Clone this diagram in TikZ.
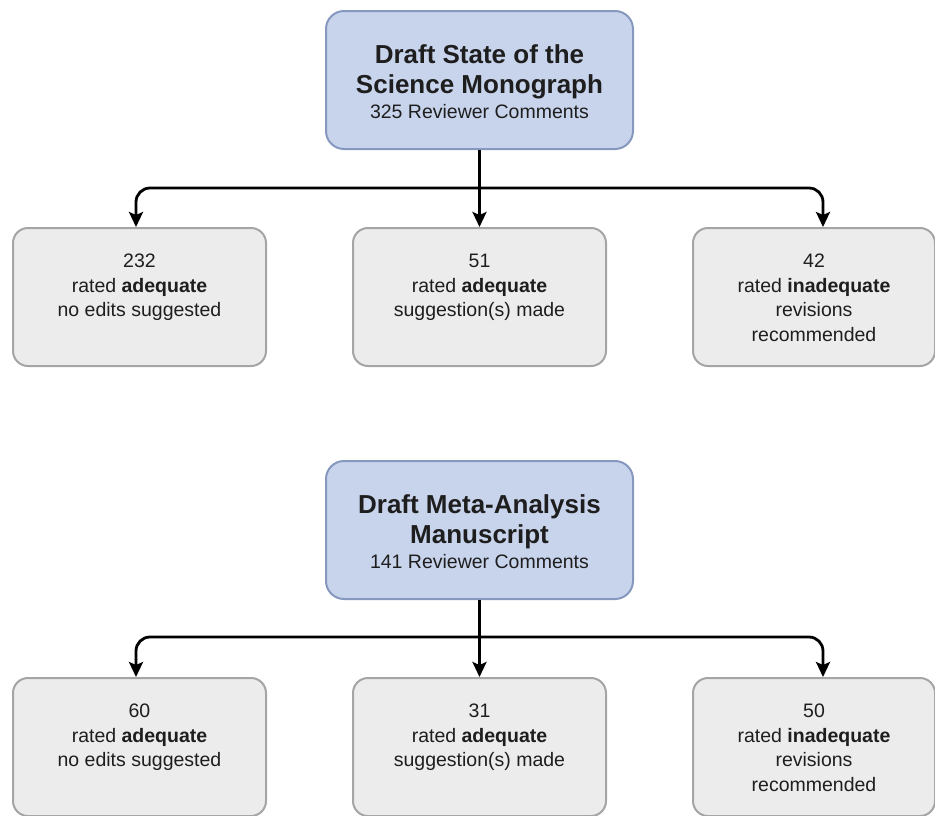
\documentclass[tikz,border=0pt]{standalone}
\usepackage{fontspec}
\setmainfont{Liberation Sans}
\usetikzlibrary{arrows.meta}
\definecolor{hdrfill}{RGB}{200,212,236}
\definecolor{hdrdraw}{RGB}{135,152,190}
\definecolor{boxfill}{RGB}{236,236,237}
\definecolor{boxdraw}{RGB}{165,165,165}
\definecolor{txt}{RGB}{30,30,30}
\tikzset{
  hdrbox/.style={draw=hdrdraw, fill=hdrfill, line width=2pt, rounded corners=18pt,
    minimum width=307pt, minimum height=138pt, inner sep=0pt, anchor=north west},
  hdrtext/.style={text=txt, align=center, inner sep=0pt, anchor=north,
    font=\fontsize{26}{30}\selectfont\bfseries},
  leafbox/.style={draw=boxdraw, fill=boxfill, line width=2pt, rounded corners=15pt,
    minimum height=138pt, inner sep=0pt, anchor=north west},
  leaftext/.style={text=txt, align=center, inner sep=0pt, anchor=north,
    font=\fontsize{19.5}{24.5}\selectfont},
  conn/.style={line width=2.8pt, black},
  arr/.style={conn, -{Stealth[length=15pt,width=14pt,inset=3pt]}},
}
\newcommand{\subln}[1]{{\fontsize{19.5}{24}\mdseries\selectfont #1}}
\begin{document}
\begin{tikzpicture}[x=1pt,y=-1pt]
\useasboundingbox (0,0) rectangle (935,815);
% ---------- first block ----------
\node[hdrbox] (h1) at (325,10) {};
\node[hdrtext] (h1t) at ([yshift=-34pt]h1.north) {Draft State of the\\Science Monograph\\[-5pt]\subln{325 Reviewer Comments}};
\node[leafbox, minimum width=253pt] (a1) at (12,227) {};
\node[leafbox, minimum width=253pt] (a2) at (352,227) {};
\node[leafbox, minimum width=242pt] (a3) at (692,227) {};
\node[leaftext] (a1t) at ([yshift=-27pt]a1.north) {232\\rated \textbf{adequate}\\no edits suggested};
\node[leaftext] (a2t) at ([yshift=-27pt]a2.north) {51\\rated \textbf{adequate}\\suggestion(s) made};
\node[leaftext] (a3t) at ([yshift=-27pt]a3.north) {42\\rated \textbf{inadequate}\\revisions\\recommended};
\coordinate (j1) at (h1.south |- 0,188);
\draw[arr] (h1.south) -- (a2.north);
\draw[arr, rounded corners=14pt] (j1) -| ([xshift=-3.5pt]a1.north);
\draw[arr, rounded corners=14pt] (j1) -| ([xshift=9pt]a3.north);
% ---------- second block ----------
\node[hdrbox] (h2) at (325,460) {};
\node[hdrtext] (h2t) at ([yshift=-34pt]h2.north) {Draft Meta-Analysis\\Manuscript\\[-5pt]\subln{141 Reviewer Comments}};
\node[leafbox, minimum width=253pt] (b1) at (12,677) {};
\node[leafbox, minimum width=253pt] (b2) at (352,677) {};
\node[leafbox, minimum width=242pt] (b3) at (692,677) {};
\node[leaftext] (b1t) at ([yshift=-27pt]b1.north) {60\\rated \textbf{adequate}\\no edits suggested};
\node[leaftext] (b2t) at ([yshift=-27pt]b2.north) {31\\rated \textbf{adequate}\\suggestion(s) made};
\node[leaftext] (b3t) at ([yshift=-27pt]b3.north) {50\\rated \textbf{inadequate}\\revisions\\recommended};
\coordinate (j2) at (h2.south |- 0,637);
\draw[arr] (h2.south) -- (b2.north);
\draw[arr, rounded corners=14pt] (j2) -| ([xshift=-3.5pt]b1.north);
\draw[arr, rounded corners=14pt] (j2) -| ([xshift=9pt]b3.north);
\end{tikzpicture}
\end{document}
